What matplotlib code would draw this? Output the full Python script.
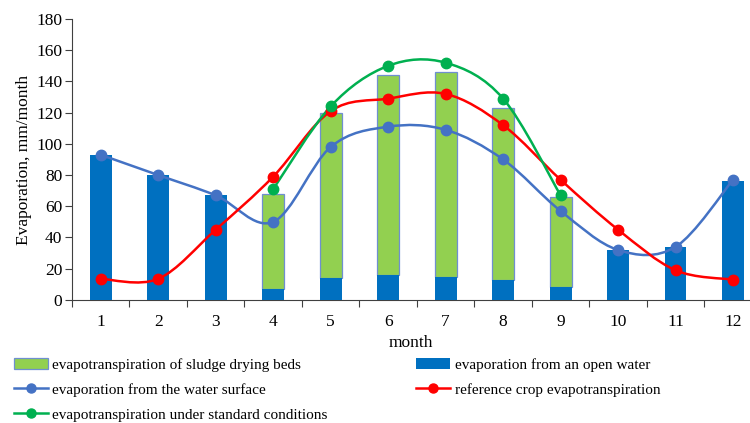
import numpy as np
import matplotlib.pyplot as plt
from matplotlib.path import Path
from matplotlib.patches import PathPatch
from matplotlib.lines import Line2D
from matplotlib.patches import Patch

plt.rcParams['font.family'] = ['Liberation Serif', 'DejaVu Serif']

months = np.arange(1, 13)
open_water = [93, 80, 67, 7, 14, 16, 15, 13, 8, 32, 34, 76]
sludge_months = [4, 5, 6, 7, 8, 9]
sludge_beds = [68, 120, 144, 146, 123, 66]
water_surface = [93, 80, 67, 50, 98, 111, 109, 90, 57, 32, 34, 77]
reference_crop = [13.5, 13.5, 45, 79, 121, 129, 132, 112, 77, 45, 19, 13]
standard_months = [4, 5, 6, 7, 8, 9]
standard = [71, 124, 150, 152, 129, 67]


def smooth_path(xs, ys):
    # excel-style smoothed line: bezier segments with catmull-rom control points
    p = np.column_stack([xs, ys]).astype(float)
    ext = np.vstack([p[0], p, p[-1]])
    verts = [p[0]]
    codes = [Path.MOVETO]
    for i in range(len(p) - 1):
        p0, p1, p2, p3 = ext[i], ext[i + 1], ext[i + 2], ext[i + 3]
        verts += [p1 + (p2 - p0) / 6, p2 - (p3 - p1) / 6, p2]
        codes += [Path.CURVE4] * 3
    return Path(verts, codes)


fig = plt.figure(figsize=(7.5, 4.23), dpi=100)
ax = fig.add_axes([0.096, 0.291, 0.904, 0.664])

base = [open_water[m - 1] for m in sludge_months]
ax.bar(sludge_months, np.array(sludge_beds) - np.array(base), 0.38, bottom=base,
       color='#92D050', edgecolor='#6F8FD0', linewidth=0.9, zorder=2)
ax.bar(months, open_water, 0.38, color='#0070C0', zorder=3)

lines = [(months, water_surface, '#4472C4'),
         (months, reference_crop, '#FF0000'),
         (standard_months, standard, '#00B050')]
for xs, ys, c in lines:
    ax.add_patch(PathPatch(smooth_path(xs, ys), facecolor='none', edgecolor=c,
                           linewidth=1.8, zorder=4))
    ax.plot(xs, ys, 'o', color=c, ms=7.5, zorder=5)

ax.set_xlim(0.5, 12.295)
ax.set_ylim(0, 180)
ax.set_yticks(range(0, 181, 20))
ax.set_xticks(np.arange(0.5, 12.0, 1.0))
ax.set_xticklabels([])
ax.set_xticks(months, minor=True)
ax.set_xticklabels([str(m) for m in months], minor=True)
ax.tick_params(axis='x', which='minor', length=0, pad=10, labelsize=12.5)
ax.tick_params(axis='x', which='major', length=5, direction='out', color='#404040')
ax.tick_params(axis='y', length=5, direction='out', color='#404040', labelsize=12.5, pad=2)
for s in ['top', 'right']:
    ax.spines[s].set_visible(False)
for s in ['left', 'bottom']:
    ax.spines[s].set_color('#404040')
ax.set_xlabel('month', fontsize=12.5, labelpad=4)
ax.set_ylabel('Evaporation, mm/month', fontsize=12.5, labelpad=3)

handles = [
    Patch(facecolor='#92D050', edgecolor='#6F8FD0', linewidth=0.9),
    Line2D([], [], color='#4472C4', lw=1.8, marker='o', ms=6.5),
    Line2D([], [], color='#00B050', lw=1.8, marker='o', ms=6.5),
    Patch(facecolor='#0070C0'),
    Line2D([], [], color='#FF0000', lw=1.8, marker='o', ms=6.5),
]
labels = ['evapotranspiration of sludge drying beds',
          'evaporation from the water surface',
          'evapotranspiration under standard conditions',
          'evaporation from an open water',
          'reference crop evapotranspiration']
fig.legend(handles, labels, ncol=2, loc='upper left', bbox_to_anchor=(0.019, 0.153),
           frameon=False, fontsize=11, handlelength=2.2, handletextpad=0.3,
           columnspacing=5.8, labelspacing=0.72, borderaxespad=0, borderpad=0)

fig.savefig('out.png', dpi=100)
